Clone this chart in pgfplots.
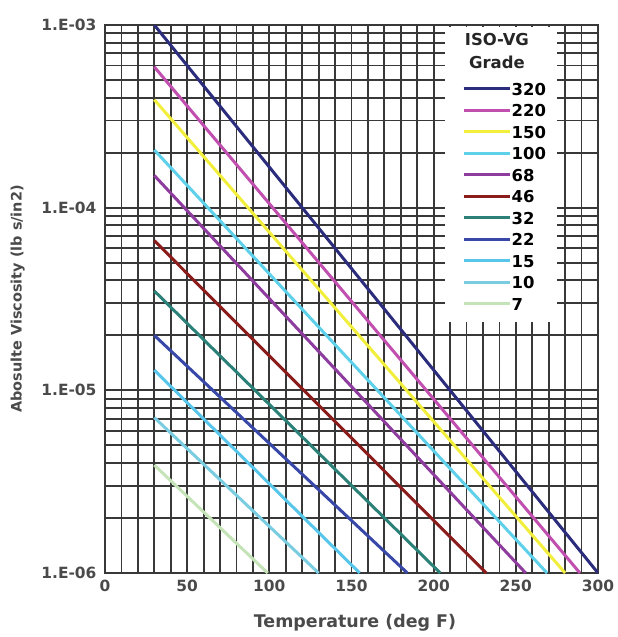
\documentclass[border=0pt]{standalone}
\usepackage{pgfplots}
\pgfplotsset{compat=1.18}
\usepackage{fontspec}
\setmainfont{DejaVu Sans}
\definecolor{c320}{HTML}{2B2C7C}
\definecolor{c220}{HTML}{C04FB0}
\definecolor{c150}{HTML}{F2EE3C}
\definecolor{c100}{HTML}{5ED0EA}
\definecolor{c68}{HTML}{8E3C9E}
\definecolor{c46}{HTML}{8A1C1C}
\definecolor{c32}{HTML}{2B8078}
\definecolor{c22}{HTML}{3848A8}
\definecolor{c15}{HTML}{58C6EA}
\definecolor{c10}{HTML}{7ACDE0}
\definecolor{c7}{HTML}{C4E4B8}
\definecolor{gridc}{HTML}{383838}
\definecolor{txt}{HTML}{4A4A4A}
\begin{document}
\begin{tikzpicture}
\begin{axis}[
  name=ax,
  scale only axis,
  width=493bp, height=548bp,
  xmin=0, xmax=300,
  ymode=log, ymin=1e-6, ymax=1e-3,
  xtick={0,50,...,300},
  minor x tick num=4,
  ytick={1e-6,1e-5,1e-4,1e-3},
  yticklabels={1.E-06,1.E-05,1.E-04,1.E-03},
  grid=both,
  major grid style={gridc, line width=1.8bp},
  minor grid style={gridc, line width=1.8bp},
  axis line style={gridc, line width=1.8bp},
  major tick length=0pt, minor tick length=0pt,
  /pgf/number format/assume math mode=true,
  tick label style={font=\fontsize{15.5}{18}\selectfont\bfseries, text=txt},
  yticklabel style={xshift=-5bp},
  xticklabel style={yshift=-4bp},
  xlabel={Temperature (deg F)},
  ylabel={Abosulte Viscosity (lb s/in2)},
  xlabel style={font=\fontsize{17.5}{20}\selectfont\bfseries, text=txt, at={(axis description cs:0.507,-0.09)}, anchor=center},
  ylabel style={font=\fontsize{14.5}{18}\selectfont\bfseries, text=txt, at={(axis description cs:-0.177,0.5)}, anchor=center},
  legend image code/.code={\draw[#1, line width=3bp] (0bp,0bp) -- (46bp,0bp);},
  legend style={at={(rel axis cs:0.724,0.895)}, anchor=north west, draw=none, fill=none,
    inner sep=0pt, row sep=9bp, column sep=0pt,
    font=\fontsize{16.5}{20}\selectfont\bfseries,
    nodes={inner xsep=0.5pt, inner ysep=0pt, text height=12.5bp, text depth=0bp}},
  legend cell align=left,
]
\fill[white] (rel axis cs:0.690,0.997) rectangle (rel axis cs:0.917,0.458);
\node[font=\fontsize{16.5}{20}\selectfont\bfseries, text=black!85] at (rel axis cs:0.795,0.973) {ISO-VG};
\node[font=\fontsize{16.5}{20}\selectfont\bfseries, text=black!85] at (rel axis cs:0.795,0.931) {Grade};
\addplot[c320, line width=3bp] coordinates {(30,1e-3) (300,1e-6)};
\addlegendentry{320}
\addplot[c220, line width=3bp] coordinates {(30,5.9e-4) (289,1e-6)};
\addlegendentry{220}
\addplot[c150, line width=3bp] coordinates {(30,3.9e-4) (280,1e-6)};
\addlegendentry{150}
\addplot[c100, line width=3bp] coordinates {(30,2.07e-4) (269,1e-6)};
\addlegendentry{100}
\addplot[c68, line width=3bp] coordinates {(30,1.5e-4) (256,1e-6)};
\addlegendentry{68}
\addplot[c46, line width=3bp] coordinates {(30,6.6e-5) (232,1e-6)};
\addlegendentry{46}
\addplot[c32, line width=3bp] coordinates {(30,3.5e-5) (204,1e-6)};
\addlegendentry{32}
\addplot[c22, line width=3bp] coordinates {(30,2.0e-5) (184,1e-6)};
\addlegendentry{22}
\addplot[c15, line width=3bp] coordinates {(30,1.29e-5) (155,1e-6)};
\addlegendentry{15}
\addplot[c10, line width=3bp] coordinates {(30,7.1e-6) (130,1e-6)};
\addlegendentry{10}
\addplot[c7, line width=3bp] coordinates {(30,3.9e-6) (99,1e-6)};
\addlegendentry{7}
\end{axis}
\path ([xshift=-105bp,yshift=-64bp]ax.south west) rectangle ([xshift=16bp,yshift=25bp]ax.north east);
\end{tikzpicture}
\end{document}
